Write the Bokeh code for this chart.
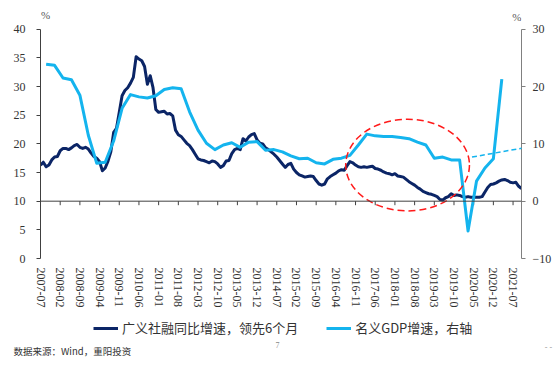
from bokeh.plotting import figure
from bokeh.layouts import column
from bokeh.models import (Range1d, LinearAxis, FixedTicker, Span, Legend, LegendItem,
                          Label, Arrow, OpenHead)
from bokeh.core.properties import value
from bokeh.embed import file_html
from bokeh.resources import INLINE

# ---------------- data ----------------
start_month = "2007-07"
x_labels = ["2007-07", "2008-02", "2008-09", "2009-04", "2009-11", "2010-06", "2011-01",
            "2011-08", "2012-03", "2012-10", "2013-05", "2013-12", "2014-07", "2015-02",
            "2015-09", "2016-04", "2016-11", "2017-06", "2018-01", "2018-08", "2019-03",
            "2019-10", "2020-05", "2020-12", "2021-07"]

# 广义社融同比增速（领先6个月），monthly from 2007-07, left axis (%)
tsf = [16.3, 16.8, 16.0, 16.3, 17.2, 17.7, 17.8, 18.8, 19.2, 19.2, 19.0, 19.3,
       19.7, 19.9, 19.4, 19.2, 19.4, 19.1, 18.4, 17.8, 17.5, 16.9, 15.3, 15.8,
       17.0, 18.6, 22.0, 22.7, 25.5, 28.4, 29.3, 29.8, 30.6, 31.6, 35.2, 34.8,
       34.5, 33.5, 30.4, 31.9, 29.8, 26.0, 25.5, 25.6, 25.7, 25.2, 25.3, 24.9,
       22.4, 21.6, 21.3, 20.7, 20.1, 19.7, 19.0, 18.2, 17.4, 17.2, 17.1, 16.9,
       16.7, 17.0, 16.9, 16.5, 15.9, 16.2, 17.0, 17.1, 18.3, 19.0, 19.2, 19.0,
       20.9, 20.5, 21.2, 21.6, 21.8, 20.7, 20.1, 20.0, 19.3, 19.0, 18.6, 18.2,
       17.7, 17.1, 16.5, 15.9, 16.4, 16.6, 15.6, 15.0, 14.6, 14.4, 14.2, 14.3,
       14.4, 14.3, 13.6, 13.0, 12.8, 13.0, 13.9, 14.3, 14.6, 14.9, 15.3, 15.5,
       15.4, 16.2, 16.9, 16.7, 16.3, 16.0, 15.9, 16.0, 15.9, 16.0, 16.1, 15.7,
       15.6, 15.4, 15.1, 14.9, 14.8, 14.6, 14.8, 14.4, 14.3, 14.2, 13.8, 13.4,
       13.1, 12.8, 12.4, 12.1, 11.7, 11.5, 11.3, 11.2, 11.0, 10.8, 10.3, 10.2,
       10.6, 10.8, 11.3, 11.0, 11.1, 11.0, 10.8, 10.7, 10.8, 10.7, 10.7, 10.7,
       10.7, 10.8, 11.6, 12.4, 12.9, 13.0, 13.2, 13.5, 13.7, 13.8, 13.6, 13.3,
       13.2, 13.3, 12.6, 12.2]

# 名义GDP增速（右轴，%），quarterly from 2007-09
gdp_start = "2007-09"
gdp = [23.9, 23.7, 21.5, 21.2, 18.5, 11.5, 6.6, 6.8, 10.5, 16.2,
       18.6, 18.2, 18.0, 18.4, 19.5, 19.8, 19.6, 15.6, 12.4, 10.1,
       9.0, 9.8, 10.2, 9.4, 10.3, 10.4, 8.9, 9.0, 8.6, 7.9,
       7.4, 7.5, 6.7, 6.5, 7.3, 7.5, 8.0, 9.8, 11.7, 11.4,
       11.3, 11.3, 11.1, 10.9, 10.3, 9.8, 7.5, 7.7, 7.2, 7.2,
       -5.2, 3.5, 5.8, 7.4, 21.3]

left_ticks = [0, 5, 10, 15, 20, 25, 30, 35, 40]
right_ticks = [-10, 0, 10, 20, 30]

series_names = ["广义社融同比增速，领先6个月", "名义GDP增速，右轴"]
source_text = "数据来源：Wind，重阳投资"


def month_index(lbl):
    y, m = lbl.split("-")
    y0, m0 = start_month.split("-")
    return (int(y) - int(y0)) * 12 + int(m) - int(m0)


tick_pos = [month_index(s) for s in x_labels]
tsf_x = list(range(len(tsf)))
g0 = month_index(gdp_start)
gdp_x = [g0 + 3 * i for i in range(len(gdp))]

NAVY = "#0b2566"
BLUE = "#14b4ee"
SERIF = "Liberation Serif"
CJK = "Noto Sans CJK SC"
TXT = "#333333"

TOP_PAD = 3.62   # extra room above 40 (left) / 30 (right) for the "%" unit marks
lmin, lmax = left_ticks[0], left_ticks[-1]
rmin, rmax = right_ticks[0], right_ticks[-1]

W = 554

# ---------------- main chart ----------------
p = figure(width=W, height=310, output_backend="svg", toolbar_location=None,
           x_range=Range1d(0, len(tsf) - 1), y_range=Range1d(lmin, lmax + TOP_PAD),
           min_border_left=40, min_border_right=28, min_border_top=8, min_border_bottom=49)
p.frame_align = False
p.outline_line_color = None
p.xgrid.visible = False
p.ygrid.visible = False
p.extra_y_ranges = {"right": Range1d(rmin, rmax + TOP_PAD)}

xa = p.xaxis[0]
xa.ticker = FixedTicker(ticks=tick_pos)
xa.major_label_overrides = {t: s for t, s in zip(tick_pos, x_labels)}
xa.major_label_orientation = "vertical"
xa.axis_line_color = None
xa.major_tick_line_color = None
xa.minor_tick_line_color = None
xa.major_tick_out = 0
xa.major_tick_in = 0
xa.major_label_standoff = 9
xa.major_label_text_font = SERIF
xa.major_label_text_font_size = "12px"
xa.major_label_text_color = TXT

ya = p.yaxis[0]
ya.ticker = FixedTicker(ticks=left_ticks)
ya.bounds = (lmin, lmax)
ya.axis_line_color = "#404040"
ya.major_tick_line_color = "#404040"
ya.minor_tick_line_color = None
ya.major_tick_out = 4
ya.major_tick_in = 0
ya.major_label_standoff = 11
ya.major_label_text_font = SERIF
ya.major_label_text_font_size = "12px"
ya.major_label_text_color = TXT

ra = LinearAxis(y_range_name="right", ticker=FixedTicker(ticks=right_ticks), bounds=(rmin, rmax))
ra.axis_line_color = "#808080"
ra.major_tick_line_color = "#808080"
ra.minor_tick_line_color = None
ra.major_tick_out = 4
ra.major_tick_in = 0
ra.major_label_standoff = 7
ra.major_label_text_font = SERIF
ra.major_label_text_font_size = "12px"
ra.major_label_text_color = TXT
p.add_layout(ra, "right")

# horizontal category axis crossing at 10 (left) / 0 (right)
p.add_layout(Span(location=10, dimension="width", line_color="#404040", line_width=1))
p.segment(x0=tick_pos, y0=[10] * len(tick_pos), x1=tick_pos, y1=[9.3] * len(tick_pos),
          line_color="#404040", line_width=1)

# series
p.line(tsf_x, tsf, line_color=NAVY, line_width=3, line_join="round")
p.line(gdp_x, gdp, line_color=BLUE, line_width=3, line_join="round", y_range_name="right")

# red dashed ellipse and dashed trend arrow
p.ellipse(x=[130.5], y=[16.3], width=44, height=16, fill_alpha=0,
          line_color="#ff1a1a", line_width=1.5, line_dash="7 4")
p.add_layout(Arrow(x_start=153.4, y_start=7.7, x_end=178.7, y_end=9.9, y_range_name="right",
                   line_color=BLUE, line_width=1.5, line_dash="5 3",
                   end=OpenHead(size=7, line_color=BLUE, line_width=1.5)))

# unit marks "%"
p.text(x=[0.2], y=[lmax + 2.4], text=["%"], text_font=value(SERIF), text_font_size="11px",
       text_color="#555555", text_align="left", text_baseline="middle")
p.text(x=[len(tsf) - 1], y=[rmax + 2.07], text=["%"], text_font=value(SERIF), text_font_size="11px",
       text_color="#555555", text_align="right", text_baseline="middle", y_range_name="right")

# ---------------- strip below: legend, page mark, source ----------------
H2 = 54
q = figure(width=W, height=H2, output_backend="svg", toolbar_location=None,
           x_range=Range1d(0, W), y_range=Range1d(0, H2),
           x_axis_location=None, y_axis_location=None,
           min_border_left=0, min_border_right=0, min_border_top=0, min_border_bottom=0)
q.frame_align = False
q.outline_line_color = None
q.xgrid.visible = False
q.ygrid.visible = False
# legend keys (their points lie outside the visible range)
k1 = q.line(x=[-20, -10], y=[-20, -20], line_color=NAVY, line_width=3)
k2 = q.line(x=[-20, -10], y=[-20, -20], line_color=BLUE, line_width=3)
legend = Legend(items=[LegendItem(label=series_names[0], renderers=[k1]),
                       LegendItem(label=series_names[1], renderers=[k2])],
                orientation="horizontal", location=(93, 27),
                glyph_width=25, glyph_height=14, label_height=14, label_standoff=4,
                spacing=28, padding=0, margin=0,
                border_line_alpha=0, background_fill_alpha=0,
                label_text_font=CJK, label_text_font_size="13px", label_text_color=TXT)
q.add_layout(legend)
q.add_layout(Label(x=277, y=20, x_units="screen", y_units="screen", text="7",
                   text_font=SERIF, text_font_size="8px", text_color="#888888",
                   text_align="center", text_baseline="middle"))
q.add_layout(Label(x=548, y=17, x_units="screen", y_units="screen", text="- -",
                   text_font=SERIF, text_font_size="8px", text_color="#999999",
                   text_align="center", text_baseline="middle"))
q.add_layout(Label(x=13, y=14, x_units="screen", y_units="screen", text=source_text,
                   text_font=CJK, text_font_size="9.5px", text_color=TXT,
                   text_align="left", text_baseline="middle"))

layout = column(p, q, spacing=0)
open("out.html", "w").write(file_html(layout, INLINE))
